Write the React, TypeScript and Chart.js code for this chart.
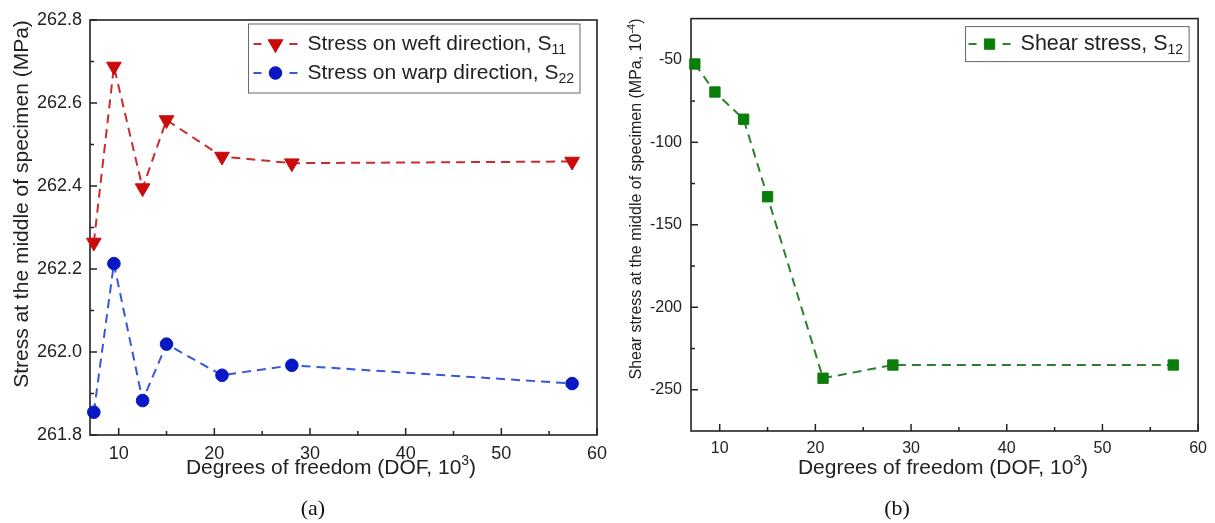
import React, { useEffect, useRef } from 'react';
import { Chart, registerables } from 'chart.js';
import { drawPoint } from 'chart.js/helpers';

Chart.register(...registerables);

// ---------- data ----------
const DOF = [7.4, 9.5, 12.5, 15.0, 20.8, 28.1, 57.4];
const S11 = [262.264, 262.688, 262.395, 262.559, 262.471, 262.455, 262.459];
const S22 = [261.855, 262.213, 261.883, 262.019, 261.944, 261.968, 261.924];
const S12 = [-52.5, -69.5, -86, -133, -243, -235, -235];

const X_MAJOR = [10, 20, 30, 40, 50, 60];
const X_MINOR = [15, 25, 35, 45, 55];
const A_Y_MAJOR = [261.8, 262.0, 262.2, 262.4, 262.6, 262.8];
const A_Y_MINOR = [261.9, 262.1, 262.3, 262.5, 262.7];
const B_Y_MAJOR = [-250, -200, -150, -100, -50];
const B_Y_MINOR = [-225, -175, -125, -75];

const X_TITLE = [{ t: 'Degrees of freedom (DOF, 10' }, { t: '3', m: 'sup' }, { t: ')' }];
const A_Y_TITLE = [{ t: 'Stress at the middle of specimen (MPa)' }];
const B_Y_TITLE = [{ t: 'Shear stress at the middle of specimen (MPa, 10' }, { t: '-4', m: 'sup' }, { t: ')' }];
const A_LEGEND = [
  [{ t: 'Stress on weft direction, S' }, { t: '11', m: 'sub' }],
  [{ t: 'Stress on warp direction, S' }, { t: '22', m: 'sub' }],
];
const B_LEGEND = [[{ t: 'Shear stress, S' }, { t: '12', m: 'sub' }]];

// ---------- styles ----------
const FONT = "Arial, 'Liberation Sans', Helvetica, sans-serif";
const INK = '#222';
const RED = '#CC0A0A';
const RED_LINE = '#CC2A2E';
const BLUE = '#0A18C4';
const BLUE_LINE = '#3558DA';
const GREEN = '#0B7D0B';
const GREEN_LINE = '#2F7F2F';

type Seg = { t: string; m?: 'sup' | 'sub' };

function segFont(size: number, m?: string) {
  return `${m ? Math.round(size * 0.66) : size}px ${FONT}`;
}
function measureSegs(ctx: CanvasRenderingContext2D, segs: Seg[], size: number) {
  let w = 0;
  for (const s of segs) {
    ctx.font = segFont(size, s.m);
    w += ctx.measureText(s.t).width;
  }
  return w;
}
function drawSegs(ctx: CanvasRenderingContext2D, segs: Seg[], x: number, y: number, size: number) {
  ctx.textAlign = 'left';
  ctx.textBaseline = 'middle';
  let cx = x;
  for (const s of segs) {
    ctx.font = segFont(size, s.m);
    const dy = s.m === 'sup' ? -size * 0.33 : s.m === 'sub' ? size * 0.3 : 0;
    ctx.fillText(s.t, cx, y + dy);
    cx += ctx.measureText(s.t).width;
  }
}

type DecorCfg = {
  xMajor: number[];
  xMinor: number[];
  yMajor: number[];
  yMinor: number[];
  xTitle: { segs: Seg[]; x: number; y: number; size: number };
  yTitle: { segs: Seg[]; x: number; y: number; size: number };
  legend: {
    rows: Seg[][];
    size: number;
    offRight: number;
    offTop: number;
    padV: number;
    rowH: number;
    padL: number;
    sample: number;
    gap: number;
    padR: number;
  };
};

function makeDecor(cfg: DecorCfg) {
  return {
    id: 'decor',
    beforeDatasetsDraw(chart: any) {
      const { ctx, chartArea: a, scales } = chart;
      ctx.save();
      ctx.strokeStyle = INK;
      ctx.lineWidth = 1.6;
      ctx.setLineDash([]);
      ctx.strokeRect(a.left, a.top, a.right - a.left, a.bottom - a.top);
      ctx.lineWidth = 1.5;
      const line = (x1: number, y1: number, x2: number, y2: number) => {
        ctx.beginPath();
        ctx.moveTo(x1, y1);
        ctx.lineTo(x2, y2);
        ctx.stroke();
      };
      for (const v of cfg.xMajor) {
        const p = scales.x.getPixelForValue(v);
        line(p, a.bottom, p, a.bottom - 7);
      }
      for (const v of cfg.xMinor) {
        const p = scales.x.getPixelForValue(v);
        line(p, a.bottom, p, a.bottom - 4);
      }
      for (const v of cfg.yMajor) {
        const p = scales.y.getPixelForValue(v);
        line(a.left, p, a.left + 7, p);
      }
      for (const v of cfg.yMinor) {
        const p = scales.y.getPixelForValue(v);
        line(a.left, p, a.left + 4, p);
      }
      ctx.fillStyle = INK;
      // x title
      const xw = measureSegs(ctx, cfg.xTitle.segs, cfg.xTitle.size);
      drawSegs(ctx, cfg.xTitle.segs, cfg.xTitle.x - xw / 2, cfg.xTitle.y, cfg.xTitle.size);
      // y title
      ctx.translate(cfg.yTitle.x, cfg.yTitle.y);
      ctx.rotate(-Math.PI / 2);
      const w = measureSegs(ctx, cfg.yTitle.segs, cfg.yTitle.size);
      drawSegs(ctx, cfg.yTitle.segs, -w / 2, 0, cfg.yTitle.size);
      ctx.restore();
    },
    afterDraw(chart: any) {
      const { ctx, chartArea: a } = chart;
      const L = cfg.legend;
      ctx.save();
      const widths = L.rows.map((r) => measureSegs(ctx, r, L.size));
      const maxW = Math.max(...widths);
      const w = L.padL + L.sample + L.gap + maxW + L.padR;
      const h = L.padV * 2 + L.rowH * (L.rows.length - 1);
      const right = a.right - L.offRight;
      const left = right - w;
      const top = a.top + L.offTop;
      ctx.fillStyle = '#fff';
      ctx.fillRect(left, top, w, h);
      ctx.strokeStyle = '#666';
      ctx.lineWidth = 1;
      ctx.strokeRect(left, top, w, h);
      L.rows.forEach((row, i) => {
        const ds = chart.data.datasets[i];
        const cy = top + L.padV + i * L.rowH;
        const x0 = left + L.padL;
        const x1 = x0 + L.sample;
        const xm = (x0 + x1) / 2;
        ctx.strokeStyle = ds.borderColor;
        ctx.lineWidth = ds.borderWidth;
        ctx.setLineDash([]);
        ctx.beginPath();
        ctx.moveTo(x0 + 1, cy);
        ctx.lineTo(x0 + 9, cy);
        ctx.moveTo(x1 - 9, cy);
        ctx.lineTo(x1 - 1, cy);
        ctx.stroke();
        ctx.fillStyle = ds.pointBackgroundColor;
        ctx.strokeStyle = ds.pointBorderColor;
        ctx.lineWidth = ds.pointBorderWidth;
        drawPoint(
          ctx,
          {
            pointStyle: ds.pointStyle,
            rotation: ds.pointRotation || 0,
            radius: ds.pointRadius,
            borderWidth: ds.pointBorderWidth,
          } as any,
          xm,
          cy
        );
        ctx.fillStyle = INK;
        drawSegs(ctx, row, x1 + L.gap, cy, L.size);
      });
      ctx.restore();
    },
  };
}

const pts = (ys: number[]) => DOF.map((x, i) => ({ x, y: ys[i] }));

function series(label: string, ys: number[], color: string, lineColor: string, style: string, radius: number, rotation = 0) {
  return {
    label,
    data: pts(ys),
    borderColor: lineColor,
    backgroundColor: color,
    pointBackgroundColor: color,
    pointBorderColor: color,
    pointBorderWidth: 1,
    pointStyle: style,
    pointRotation: rotation,
    pointRadius: radius,
    pointHoverRadius: radius,
    borderWidth: 2,
    borderDash: [9, 6],
    tension: 0,
    fill: false,
    clip: false as any,
  };
}

function scalesFor(opts: {
  yMin: number;
  yMax: number;
  yMajor: number[];
  yWidth: number;
  xHeight: number;
  tickSize: number;
  yFmt: (v: number) => string;
  yPad: number;
}) {
  return {
    x: {
      type: 'linear' as const,
      min: 7,
      max: 60,
      afterBuildTicks: (s: any) => {
        s.ticks = X_MAJOR.map((v) => ({ value: v }));
      },
      afterFit: (s: any) => {
        s.height = opts.xHeight;
      },
      grid: { display: false, drawTicks: false },
      border: { display: false },
      ticks: {
        font: { size: opts.tickSize, family: FONT },
        color: INK,
        padding: 8,
        maxRotation: 0,
        autoSkip: false,
      },
      title: { display: false },
    },
    y: {
      type: 'linear' as const,
      min: opts.yMin,
      max: opts.yMax,
      afterBuildTicks: (s: any) => {
        s.ticks = opts.yMajor.map((v) => ({ value: v }));
      },
      afterFit: (s: any) => {
        s.width = opts.yWidth;
      },
      grid: { display: false, drawTicks: false },
      border: { display: false },
      ticks: {
        font: { size: opts.tickSize, family: FONT },
        color: INK,
        padding: opts.yPad,
        autoSkip: false,
        callback: (v: any) => opts.yFmt(Number(v)),
      },
    },
  };
}

function configA(): any {
  return {
    type: 'line',
    data: {
      datasets: [
        series('S11', S11, RED, RED_LINE, 'triangle', 8.5, 180),
        series('S22', S22, BLUE, BLUE_LINE, 'circle', 6.3),
      ],
    },
    options: {
      animation: false,
      responsive: false,
      maintainAspectRatio: false,
      devicePixelRatio: 1,
      layout: { padding: { top: 20, right: 14, left: 0, bottom: 0 } },
      plugins: { legend: { display: false }, tooltip: { enabled: false } },
      scales: scalesFor({
        yMin: 261.8,
        yMax: 262.8,
        yMajor: A_Y_MAJOR,
        yWidth: 90,
        xHeight: 88,
        tickSize: 18,
        yFmt: (v) => v.toFixed(1),
        yPad: 8,
      }),
    },
    plugins: [
      makeDecor({
        xMajor: X_MAJOR,
        xMinor: X_MINOR,
        yMajor: A_Y_MAJOR,
        yMinor: A_Y_MINOR,
        xTitle: { segs: X_TITLE as Seg[], x: 331, y: 468, size: 21 },
        yTitle: { segs: A_Y_TITLE as Seg[], x: 22, y: 204, size: 21 },
        legend: {
          rows: A_LEGEND as Seg[][],
          size: 21,
          offRight: 17,
          offTop: 4,
          padV: 20,
          rowH: 29,
          padL: 4,
          sample: 46,
          gap: 9,
          padR: 6,
        },
      }),
    ],
  };
}

function configB(): any {
  return {
    type: 'line',
    data: {
      datasets: [series('S12', S12, GREEN, GREEN_LINE, 'rect', 7.3)],
    },
    options: {
      animation: false,
      responsive: false,
      maintainAspectRatio: false,
      devicePixelRatio: 1,
      layout: { padding: { top: 16, right: 14, left: 0, bottom: 0 } },
      plugins: { legend: { display: false }, tooltip: { enabled: false } },
      scales: scalesFor({
        yMin: -275,
        yMax: -25,
        yMajor: B_Y_MAJOR,
        yWidth: 76,
        xHeight: 92,
        tickSize: 16,
        yFmt: (v) => String(v),
        yPad: 9,
      }),
    },
    plugins: [
      makeDecor({
        xMajor: X_MAJOR,
        xMinor: X_MINOR,
        yMajor: B_Y_MAJOR,
        yMinor: B_Y_MINOR,
        xTitle: { segs: X_TITLE as Seg[], x: 328, y: 468, size: 21 },
        yTitle: { segs: B_Y_TITLE as Seg[], x: 22, y: 199, size: 16 },
        legend: {
          rows: B_LEGEND as Seg[][],
          size: 21.5,
          offRight: 9,
          offTop: 8,
          padV: 17.5,
          rowH: 29,
          padL: 2,
          sample: 44,
          gap: 9,
          padR: 6,
        },
      }),
    ],
  };
}

const caption = (cx: number): React.CSSProperties => ({
  position: 'absolute',
  left: cx - 40,
  width: 80,
  top: 496,
  textAlign: 'center',
  font: "22px 'Times New Roman', 'Liberation Serif', serif",
  lineHeight: '24px',
  color: '#111',
});

export default function App() {
  const aRef = useRef<HTMLCanvasElement>(null);
  const bRef = useRef<HTMLCanvasElement>(null);
  useEffect(() => {
    const a = new Chart(aRef.current as HTMLCanvasElement, configA());
    const b = new Chart(bRef.current as HTMLCanvasElement, configB());
    return () => {
      a.destroy();
      b.destroy();
    };
  }, []);
  return (
    <div style={{ position: 'fixed', left: 0, top: 0, width: 1215, height: 523, background: '#fff', overflow: 'hidden' }}>
      <canvas ref={aRef} width={615} height={523} style={{ position: 'absolute', left: 0, top: 0, width: 615, height: 523 }} />
      <canvas ref={bRef} width={600} height={523} style={{ position: 'absolute', left: 615, top: 0, width: 600, height: 523 }} />
      <div style={caption(313)}>(a)</div>
      <div style={caption(897)}>(b)</div>
    </div>
  );
}
